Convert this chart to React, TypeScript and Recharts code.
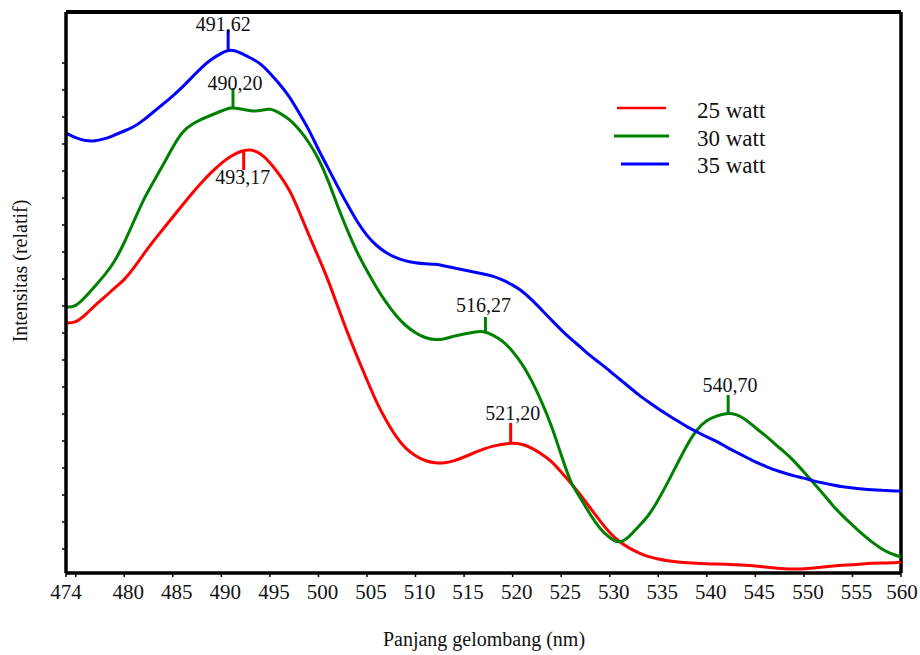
import { Customized, Legend, Line, LineChart, ReferenceDot, ReferenceLine, XAxis, YAxis } from "recharts";

const FONT = "'Liberation Serif', 'Times New Roman', serif";

// wavelength (nm), one point per nm
const wavelengths = [
  474, 475, 476, 477, 478, 479, 480, 481, 482, 483, 484, 485, 486, 487, 488, 489, 490, 491, 492, 493,
  494, 495, 496, 497, 498, 499, 500, 501, 502, 503, 504, 505, 506, 507, 508, 509, 510, 511, 512, 513,
  514, 515, 516, 517, 518, 519, 520, 521, 522, 523, 524, 525, 526, 527, 528, 529, 530, 531, 532, 533,
  534, 535, 536, 537, 538, 539, 540, 541, 542, 543, 544, 545, 546, 547, 548, 549, 550, 551, 552, 553,
  554, 555, 556, 557, 558, 559, 560,
];

// relative intensity
const watt25 = [
  250, 250, 258, 268, 276, 285, 293, 305, 319, 332, 344, 356, 368, 380, 391, 401, 410, 417, 422, 424,
  420, 411, 398, 384, 362, 338, 316, 293, 266, 240, 216, 193, 170, 152, 136, 124, 117, 112, 110, 110,
  112, 116, 120, 124, 127, 129, 130, 129, 125, 119, 112, 101, 90, 78, 65, 52, 40, 31, 25, 20,
  16, 14, 12, 11, 10, 10, 9, 9, 9, 8, 8, 7, 6, 5, 4, 4, 4, 5, 6, 7,
  8, 8, 9, 10, 10, 10, 11,
];
const watt30 = [
  266, 266, 276, 287, 298, 311, 330, 352, 374, 391, 408, 426, 442, 449, 454, 458, 462, 466, 464, 462,
  462, 465, 460, 454, 444, 431, 415, 393, 366, 342, 320, 302, 285, 270, 257, 247, 240, 235, 233, 234,
  237, 239, 241, 242, 238, 232, 222, 209, 192, 171, 148, 118, 89, 75, 58, 44, 35, 29, 36, 47,
  57, 73, 91, 110, 129, 144, 153, 157, 160, 159, 154, 145, 138, 129, 121, 112, 101, 90, 79, 67,
  57, 48, 39, 31, 24, 19, 16,
];
const watt35 = [
  440, 435, 432, 432, 434, 438, 442, 446, 453, 461, 469, 477, 486, 496, 506, 514, 520, 524, 520, 515,
  510, 500, 489, 477, 460, 444, 423, 405, 386, 368, 351, 337, 327, 320, 315, 312, 310, 309, 309, 307,
  305, 303, 301, 299, 297, 293, 288, 282, 273, 263, 253, 243, 234, 226, 217, 210, 202, 194, 186, 178,
  171, 164, 158, 152, 146, 141, 136, 132, 126, 121, 116, 111, 107, 103, 100, 97, 95, 92, 90, 88,
  86, 85, 84, 83, 83, 82, 82,
];

const seriesNames = ["25 watt", "30 watt", "35 watt"];
const seriesColors = ["#ff0000", "#008000", "#0000ff"];

const xTicks = [474, 475, 480, 485, 490, 495, 500, 505, 510, 515, 520, 525, 530, 535, 540, 545, 550, 555, 560];
const yTicks = [24, 51, 78, 105, 132, 159, 186, 213, 240, 267, 294, 321, 348, 375, 402, 429, 456, 483, 510];

// peak annotations
const peakLabels = ["491,62", "490,20", "493,17", "516,27", "521,20", "540,70"];
const peakSeries = [2, 1, 0, 1, 0, 1];
const peakWl = [490.7, 491.2, 492.3, 517.2, 519.8, 542.2];
const peakBase = [522, 464, 423, 240, 130, 159];
const peakTip = [543, 485, 403, 256, 150, 178];
const labelWl = [490.2, 491.4, 492.2, 517.0, 520.0, 542.4];
const labelLevel = [549, 490, 396, 268, 160, 188];

const data = wavelengths.map((wl, i) => ({ wl, w25: watt25[i], w30: watt30[i], w35: watt35[i] }));
const keys = ["w25", "w30", "w35"];

function XTick({ x, y, payload }: any) {
  const v = payload.value;
  if (v === 475) return <g />;
  const dx = v === 474 ? 0 : v === 560 ? 1 : 4;
  return (
    <text x={x + dx} y={y + 20} textAnchor="middle" fontSize={21} fontFamily={FONT} fill="#111">
      {v}
    </text>
  );
}

function LegendBox({ payload }: any) {
  const items = payload || [];
  const lineX = [[17, 66], [14, 69], [21, 69]];
  const lineW = [2.5, 3, 3];
  return (
    <svg width={200} height={95}>
      {items.map((p: any, i: number) => (
        <g key={p.value}>
          <line x1={lineX[i][0]} x2={lineX[i][1]} y1={18 + i * 28} y2={18 + i * 28} stroke={p.color} strokeWidth={lineW[i]} />
          <text x={97} y={28 + i * 27.5} fontSize={23} fontFamily={FONT} fill="#111">{p.value}</text>
        </g>
      ))}
    </svg>
  );
}

function AxisTitles() {
  return (
    <g fontFamily={FONT} fill="#111">
      <text x={476} y={638} fontSize={20} textAnchor="middle">Panjang gelombang (nm)</text>
      <text x={12} y={263} fontSize={20} textAnchor="middle" dominantBaseline="central" transform="rotate(-90 12 263)">
        Intensitas (relatif)
      </text>
    </g>
  );
}

export default function App() {
  const axisLine = { stroke: "#000", strokeWidth: 3.5 };
  return (
    <>
      <style>{"html{overflow:hidden} body{margin:8px 0 0 8px}"}</style>
      <LineChart width={912} height={645} data={data} margin={{ top: 4, right: 19, bottom: 50, left: 48 }}>
        <XAxis
          dataKey="wl"
          type="number"
          domain={[474, 560]}
          ticks={xTicks}
          interval={0}
          tick={XTick}
          tickLine={{ stroke: "#000", strokeWidth: 1.5 }}
          tickSize={4}
          axisLine={axisLine}
          height={30}
        />
        <YAxis
          type="number"
          domain={[0, 561]}
          ticks={yTicks}
          interval={0}
          tick={() => <g />}
          tickLine={{ stroke: "#000", strokeWidth: 1.5 }}
          tickSize={4}
          axisLine={axisLine}
          width={10}
        />
        <ReferenceLine y={561} stroke="#000" strokeWidth={4} />
        <ReferenceLine x={560} stroke="#000" strokeWidth={3.5} />
        {keys.map((k, i) => (
          <Line
            key={k}
            dataKey={k}
            name={seriesNames[i]}
            type="basis"
            stroke={seriesColors[i]}
            strokeWidth={3}
            dot={false}
            activeDot={false}
            isAnimationActive={false}
          />
        ))}
        {peakLabels.map((lab, i) => (
          <ReferenceLine
            key={"seg" + i}
            segment={[
              { x: peakWl[i], y: peakBase[i] },
              { x: peakWl[i], y: peakTip[i] },
            ]}
            stroke={seriesColors[peakSeries[i]]}
            strokeWidth={3}
          />
        ))}
        {peakLabels.map((lab, i) => (
          <ReferenceDot
            key={"lab" + i}
            x={labelWl[i]}
            y={labelLevel[i]}
            r={0}
            fill="none"
            stroke="none"
            label={{ value: lab, position: "center", fill: "#111", fontSize: 20, fontFamily: FONT }}
          />
        ))}
        <Legend
          layout="vertical"
          align="center"
          verticalAlign="middle"
          content={LegendBox}
          wrapperStyle={{ position: "absolute", left: 592, top: 82, width: 200, height: 95 }}
        />
        <Customized component={AxisTitles} />
      </LineChart>
    </>
  );
}
